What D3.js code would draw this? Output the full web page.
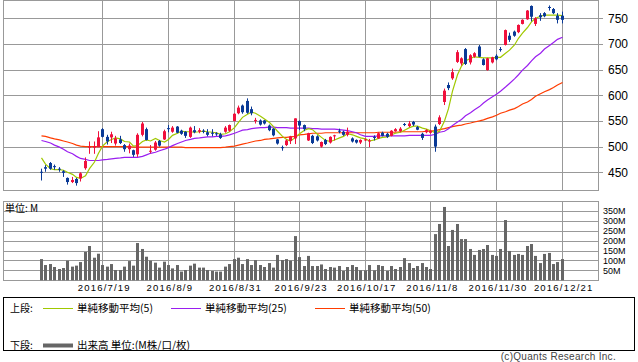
<!DOCTYPE html>
<html>
<head>
<meta charset="utf-8">
<script src="https://cdn.jsdelivr.net/npm/d3@7/dist/d3.min.js"></script>
<style>
body { margin: 0; background: #fff; }
svg { display: block; }
text { font-family: "Liberation Sans", Arial, sans-serif; fill: #000; }
.jp { font-family: "Noto Sans CJK JP", sans-serif; }
</style>
</head>
<body>
<svg id="chart" width="638" height="362"></svg>
<script>
// trading days, 2016
var dates = [
  "6/28","6/29","6/30",
  "7/1","7/4","7/5","7/6","7/7","7/8","7/11","7/12","7/13","7/14","7/15","7/19","7/20","7/21","7/22","7/25","7/26","7/27","7/28","7/29",
  "8/1","8/2","8/3","8/4","8/5","8/8","8/9","8/10","8/12","8/15","8/16","8/17","8/18","8/19","8/22","8/23","8/24","8/25","8/26","8/29","8/30","8/31",
  "9/1","9/2","9/5","9/6","9/7","9/8","9/9","9/12","9/13","9/14","9/15","9/16","9/20","9/21","9/23","9/26","9/27","9/28","9/29","9/30",
  "10/3","10/4","10/5","10/6","10/7","10/11","10/12","10/13","10/14","10/17","10/18","10/19","10/20","10/21","10/24","10/25","10/26","10/27","10/28","10/31",
  "11/1","11/2","11/4","11/7","11/8","11/9","11/10","11/11","11/14","11/15","11/16","11/17","11/18","11/21","11/22","11/24","11/25","11/28","11/29","11/30",
  "12/1","12/2","12/5","12/6","12/7","12/8","12/9","12/12","12/13","12/14","12/15","12/16","12/19","12/20","12/21"
];

var open = [451,460,468,462,457,452,439,431,437,438, 458,498,498,499,534,519,518,506,514,503,
  495,493,485,523,534,490,494,511,514,536, 529,539,531,529,519,532,529,531,528,527,
  526,524,529,531,550,565,580,589,573,550, 551,551,541,535,514,499,503,511,516,550,
  542,512,521,520,500,513,508,521,531,529, 523,516,513,508,513,511,519,516,527,525,
  521,530,530,544,540,548,538,525,528,527, 539,544,587,620,633,665,662,690,664,675,
  695,670,649,664,677,690,698,716,724,723, 739,748,774,739,756,760,772,768,755,755];
var high = [457,464,470,465,460,454,440,441,439,450, 479,510,510,530,536,523,529,521,521,505,
  506,494,526,548,537,503,511,513,533,542, 540,540,533,530,539,540,536,534,534,534,
  528,527,540,543,565,580,582,594,578,556, 553,552,543,536,515,502,514,521,555,551,
  543,527,523,522,510,515,520,523,535,531, 537,518,514,514,516,515,522,528,529,527,
  532,536,538,546,550,550,540,527,534,533, 543,561,613,625,652,688,674,692,680,684,
  698,672,673,675,680,694,728,722,726,738, 748,766,775,752,760,762,775,770,760,763];
var low = [434,451,455,455,451,441,426,429,424,432, 455,486,486,499,518,504,507,502,505,490,
  487,480,480,520,512,487,492,500,513,528, 527,526,523,517,517,526,526,526,520,520,
  521,515,527,529,549,563,564,564,561,545, 541,543,530,520,504,492,501,505,505,532,
  530,511,505,510,498,503,506,512,526,521, 520,508,506,505,511,499,512,515,520,517,
  520,529,528,540,538,540,532,513,526,525, 490,542,581,610,630,663,658,659,660,673,
  674,658,648,662,668,685,697,704,714,721, 738,747,744,735,745,752,765,758,740,740];
var close = [449,457,457,460,455,449,431,435,429,448, 472,500,501,518,519,510,524,516,507,495,
  502,484,523,545,513,492,508,502,530,534, 537,527,525,521,537,528,532,530,523,526,
  524,517,537,542,564,576,567,566,565,552, 543,545,532,522,506,497,512,520,555,541,
  534,526,507,512,509,505,519,522,530,523, 529,510,508,513,514,512,517,526,521,519,
  531,534,535,543,545,543,533,517,532,531, 500,557,609,614,645,684,672,661,678,682,
  675,659,672,674,670,689,727,708,716,737, 747,765,753,750,752,754,770,760,747,747];

var ma5 = [478,466,457,455,455,454,450,446,440,438, 443,457,470,487,501,510,514,517,515,510,
  509,501,502,510,513,511,516,512,509,514, 522,526,530,529,529,528,529,530,529,528,
  527,524,525,529,537,547,557,563,567,565, 559,554,547,539,530,520,514,511,518,525,
  532,535,533,524,518,512,510,513,517,520, 525,523,520,517,515,511,513,516,518,519,
  523,526,528,532,537,540,540,536,534,531, 527,530,550,574,608,640,657,667,672,675,
  674,673,673,673,674,674,682,688,698,711, 721,732,743,750,754,756,756,756,756,755];
var ma25 = [512,510,507,503,499,495,490,486,481,477, 475,473,473,473,474,475,476,477,478,479,
  479,479,479,481,484,487,489,492,495,498, 502,506,509,512,514,516,517,518,519,519,
  520,520,521,523,526,529,532,533,535,536, 537,537,538,538,537,537,537,536,536,536,
  536,536,535,535,534,534,534,534,533,532, 531,529,527,523,520,520,520,521,521,521,
  521,521,521,521,522,522,522,522,522,522, 524,528,530,535,541,548,553,560,566,572,
  578,585,591,597,602,608,616,623,632,640, 649,658,667,675,682,690,697,703,709,713];
var ma50 = [521,520,517,515,513,511,509,506,503,501, 500,500,500,500,500,500,500,500,500,500,
  500,499,499,499,499,499,499,499,499,499, 499,499,499,498,498,498,498,498,498,498,
  498,498,499,500,501,503,505,507,509,511, 512,514,515,516,517,518,518,519,520,523,
  524,525,526,526,526,527,527,527,527,527, 527,527,527,527,527,527,527,528,528,528,
  528,528,529,529,529,529,529,529,530,530, 531,533,535,537,539,541,542,544,546,548,
  550,552,555,558,561,565,568,571,574,578, 583,587,592,598,603,607,611,615,620,625];

// volume, millions
var volume = [107,77,82,67,57,62,99,69,74,92, 143,173,114,134,77,69,82,52,52,69,
  97,74,188,158,119,99,89,64,94,77, 60,77,44,52,74,84,64,64,52,47,
  44,44,69,82,107,114,82,107,77,102, 77,67,87,64,128,102,107,99,223,117,
  72,123,72,72,80,57,67,64,72,47, 67,77,67,50,50,77,50,77,72,47,
  72,57,67,112,87,62,72,87,67,57, 233,284,370,173,254,284,208,208,158,128,
  153,158,178,128,123,158,304,148,128,133, 128,173,183,123,87,133,138,82,92,107];

var tickDates = ["7/19","8/9","8/31","9/23","10/17","11/8","11/30","12/21"];
var priceTicks = [450,500,550,600,650,700,750];
var volumeTicks = [50,100,150,200,250,300,350];

var UP = "#f0103c", DOWN = "#0a3a96", GRID = "#999";

var svg = d3.select("#chart");
var left = 3, right = 598;

var x = d3.scaleBand().domain(dates).range([left, right])
  .paddingInner(0).paddingOuter(8).align(0.512);
function cx(i) { return Math.round(x(dates[i]) + x.bandwidth() / 2) + 0.5; }

var yP = d3.scaleLinear().domain([415.5, 785.6]).range([190, 0]);
var yV = d3.scaleLinear().domain([0, 400]).range([280.3, 201]);
var idx = d3.range(dates.length);

function crisp(v) { return Math.round(v) + 0.5; }

function panel(top, bottom, scale, ticks, tickLen) {
  var g = svg.append("g");
  g.selectAll(".h").data(ticks).join("line")
    .attr("x1", left).attr("x2", right + tickLen)
    .attr("y1", d => crisp(scale(d))).attr("y2", d => crisp(scale(d)))
    .attr("stroke", GRID);
  g.selectAll(".v").data(tickDates).join("line")
    .attr("x1", d => cx(dates.indexOf(d))).attr("x2", d => cx(dates.indexOf(d)))
    .attr("y1", top).attr("y2", bottom)
    .attr("stroke", GRID);
  g.append("rect")
    .attr("x", left + 0.5).attr("y", top + 0.5)
    .attr("width", right - left).attr("height", bottom - top)
    .attr("fill", "none").attr("stroke", GRID);
}

panel(0, 190, yP, priceTicks, 5);
panel(201, 280, yV, volumeTicks, 0);

// price labels
svg.append("g")
  .attr("transform", "translate(" + right + ",0)")
  .call(d3.axisRight(yP).tickValues(priceTicks).tickSize(0).tickPadding(10))
  .call(g => g.select(".domain").remove())
  .selectAll("text").style("font-size", "12px").style("font-family", "Liberation Sans");

// volume labels
svg.append("g")
  .attr("transform", "translate(" + right + ",0)")
  .call(d3.axisRight(yV).tickValues(volumeTicks).tickFormat(d => d + "M").tickSize(0).tickPadding(5))
  .call(g => g.select(".domain").remove())
  .selectAll("text").style("font-size", "9px").style("font-family", "Liberation Sans");

// date labels
svg.append("g")
  .attr("transform", "translate(2,281)")
  .call(d3.axisBottom(x).tickValues(tickDates).tickFormat(d => "2016/" + d).tickSize(0).tickPadding(3))
  .call(g => g.select(".domain").remove())
  .selectAll("text").style("font-size", "9.5px").style("letter-spacing", "1.2px")
  .style("font-family", "Liberation Sans");

// moving averages
var lines = [[ma50, "#ff3c00"], [ma25, "#9a1ef0"], [ma5, "#a0c800"]];
lines.forEach(function(l) {
  svg.append("path")
    .datum(idx)
    .attr("d", d3.line().x(i => cx(i)).y(i => yP(l[0][i])))
    .attr("fill", "none")
    .attr("stroke", l[1])
    .attr("stroke-width", 1.2);
});

// candles
var candle = svg.append("g").selectAll("g").data(idx).join("g");
candle.append("line")
  .attr("x1", i => cx(i)).attr("x2", i => cx(i))
  .attr("y1", i => yP(high[i])).attr("y2", i => yP(low[i]))
  .attr("stroke", i => close[i] >= open[i] ? UP : DOWN);
candle.append("rect")
  .attr("x", i => cx(i) - 1.5)
  .attr("width", 3)
  .attr("y", i => yP(Math.max(open[i], close[i])))
  .attr("height", i => Math.max(1, Math.abs(yP(open[i]) - yP(close[i]))))
  .attr("fill", i => close[i] >= open[i] ? UP : DOWN);

// volume bars
svg.append("g").selectAll("rect").data(idx).join("rect")
  .attr("x", i => cx(i) - 1.5)
  .attr("width", 3)
  .attr("y", i => yV(volume[i]))
  .attr("height", i => yV(0) - yV(volume[i]))
  .attr("fill", "#666");

svg.append("text").attr("class", "jp")
  .attr("x", 5).attr("y", 212)
  .style("font-size", "10px")
  .text("単位: M");

// legend
svg.append("rect")
  .attr("x", 3.5).attr("y", 297.5).attr("width", 631).attr("height", 53)
  .attr("fill", "none").attr("stroke", "#000");

var legendRows = [
  { label: "上段:", y: 308, items: [
    { x: 43, color: "#a0c800", w: 1, text: "単純移動平均(5)" },
    { x: 171, color: "#9a1ef0", w: 1, text: "単純移動平均(25)" },
    { x: 315, color: "#ff3c00", w: 1, text: "単純移動平均(50)" }] },
  { label: "下段:", y: 345, items: [
    { x: 43, color: "#666", w: 4, text: "出来高 単位:(M株/口/枚)" }] }
];
legendRows.forEach(function(r) {
  svg.append("text").attr("class", "jp")
    .attr("x", 10).attr("y", r.y).attr("dy", "0.35em")
    .style("font-size", "10px").text(r.label);
  r.items.forEach(function(it) {
    svg.append("line")
      .attr("x1", it.x).attr("x2", it.x + 30)
      .attr("y1", r.y + 0.5).attr("y2", r.y + 0.5)
      .attr("stroke", it.color).attr("stroke-width", it.w);
    svg.append("text").attr("class", "jp")
      .attr("x", it.x + 34).attr("y", r.y).attr("dy", "0.35em")
      .style("font-size", "10.5px").text(it.text);
  });
});

svg.append("text")
  .attr("x", 616).attr("y", 360)
  .attr("text-anchor", "end")
  .style("font-size", "10px").style("fill", "#444").style("letter-spacing", "0.3px")
  .text("(c)Quants Research Inc.");
</script>
</body>
</html>
